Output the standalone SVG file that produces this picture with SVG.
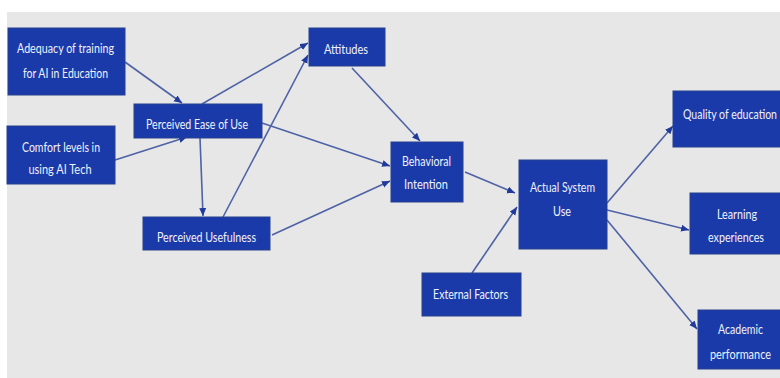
<svg xmlns="http://www.w3.org/2000/svg" width="780" height="378" viewBox="0 0 780 378">
<style>
.box{fill:#1b3aa9;stroke:#27408f;stroke-width:1}
.t{font-family:Lato,"Liberation Sans",sans-serif;font-size:14px;fill:#eef1fb;text-anchor:middle;dominant-baseline:central}
.c{stroke:#4e62a6;stroke-width:1.6;fill:none;marker-end:url(#ah)}
</style>
<defs>
<marker id="ah" markerUnits="userSpaceOnUse" markerWidth="9" markerHeight="8" refX="8" refY="3.5" orient="auto">
<path d="M0,0 L8,3.5 L0,7 z" fill="#1f3a9c"/>
</marker>
</defs>
<rect x="0" y="0" width="780" height="378" fill="#ffffff"/>
<rect x="7" y="12" width="773" height="366" fill="#e7e7e7"/>
<g id="connectors">
<line class="c" x1="125" y1="62" x2="182" y2="103"/>
<line class="c" x1="115" y1="160" x2="187" y2="137"/>
<line class="c" x1="202" y1="104" x2="308" y2="43"/>
<line class="c" x1="223" y1="217" x2="308" y2="55"/>
<line class="c" x1="200" y1="138" x2="203" y2="216"/>
<line class="c" x1="262" y1="123" x2="390" y2="166"/>
<line class="c" x1="272" y1="235" x2="390" y2="181"/>
<line class="c" x1="352" y1="68" x2="420" y2="141"/>
<line class="c" x1="465" y1="172" x2="515" y2="193"/>
<line class="c" x1="472" y1="273" x2="517" y2="207"/>
<line class="c" x1="607" y1="203" x2="673" y2="126"/>
<line class="c" x1="607" y1="210" x2="689" y2="230"/>
<line class="c" x1="607" y1="220" x2="697" y2="329"/>
</g>
<g id="adequacy">
<rect class="box" x="8" y="28" width="117" height="67"/>
<text class="t" x="65.5" y="47" textLength="97" lengthAdjust="spacingAndGlyphs">Adequacy of training</text>
<text class="t" x="65.5" y="72" textLength="85" lengthAdjust="spacingAndGlyphs">for AI in Education</text>
</g>
<g id="comfort">
<rect class="box" x="7" y="126" width="108" height="58"/>
<text class="t" x="61" y="146" textLength="78" lengthAdjust="spacingAndGlyphs">Comfort levels in</text>
<text class="t" x="60" y="168" textLength="63" lengthAdjust="spacingAndGlyphs">using AI Tech</text>
</g>
<g id="peou">
<rect class="box" x="134" y="104" width="128" height="34"/>
<text class="t" x="197" y="123" textLength="102" lengthAdjust="spacingAndGlyphs">Perceived Ease of Use</text>
</g>
<g id="pu">
<rect class="box" x="143" y="217" width="127" height="33"/>
<text class="t" x="206.5" y="236" textLength="99" lengthAdjust="spacingAndGlyphs">Perceived Usefulness</text>
</g>
<g id="attitudes">
<rect class="box" x="309" y="28" width="76" height="38"/>
<text class="t" x="346" y="48" textLength="44" lengthAdjust="spacingAndGlyphs">Attitudes</text>
</g>
<g id="bi">
<rect class="box" x="391" y="142" width="72" height="60"/>
<text class="t" x="426.5" y="160" textLength="49" lengthAdjust="spacingAndGlyphs">Behavioral</text>
<text class="t" x="426" y="183" textLength="44" lengthAdjust="spacingAndGlyphs">Intention</text>
</g>
<g id="asu">
<rect class="box" x="519" y="160" width="88" height="89"/>
<text class="t" x="562.5" y="186" textLength="65" lengthAdjust="spacingAndGlyphs">Actual System</text>
<text class="t" x="562" y="210" textLength="18" lengthAdjust="spacingAndGlyphs">Use</text>
</g>
<g id="external">
<rect class="box" x="422" y="273" width="99" height="43"/>
<text class="t" x="470.5" y="293" textLength="75" lengthAdjust="spacingAndGlyphs">External Factors</text>
</g>
<g id="quality">
<rect class="box" x="673" y="91" width="110" height="56"/>
<text class="t" x="730" y="113" textLength="94" lengthAdjust="spacingAndGlyphs">Quality of education</text>
</g>
<g id="learning">
<rect class="box" x="690" y="193" width="93" height="61"/>
<text class="t" x="737" y="213" textLength="40" lengthAdjust="spacingAndGlyphs">Learning</text>
<text class="t" x="736" y="236" textLength="56" lengthAdjust="spacingAndGlyphs">experiences</text>
</g>
<g id="academic">
<rect class="box" x="698" y="310" width="85" height="59"/>
<text class="t" x="740.5" y="328" textLength="45" lengthAdjust="spacingAndGlyphs">Academic</text>
<text class="t" x="740.5" y="353" textLength="61" lengthAdjust="spacingAndGlyphs">performance</text>
</g>
</svg>
